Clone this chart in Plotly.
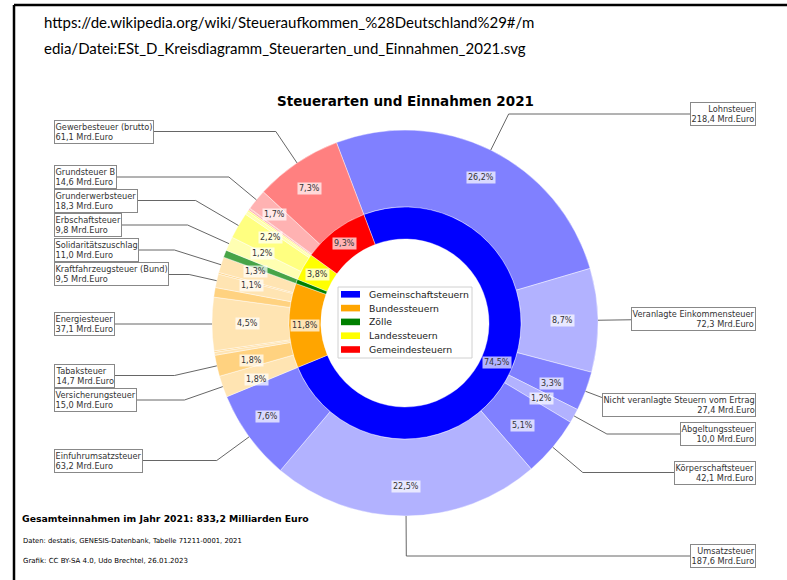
import math

import plotly.graph_objects as go

# inner ring: tax categories
groups = ["Gemeinschaftsteuern", "Bundessteuern", "Zölle", "Landessteuern", "Gemeindesteuern"]

# outer ring: single taxes in clockwise order, Mrd. Euro 2021
taxes = [
    "Lohnsteuer", "Veranlagte Einkommensteuer", "Nicht veranlagte Steuern vom Ertrag",
    "Abgeltungssteuer", "Körperschaftsteuer", "Umsatzsteuer", "Einfuhrumsatzsteuer",
    "Versicherungsteuer", "Tabaksteuer", "Alkoholsteuer", "Kaffeesteuer", "Energiesteuer",
    "Stromsteuer", "Kraftfahrzeugsteuer (Bund)", "Sonstige Bundessteuern", "Solidaritätszuschlag",
    "Zölle",
    "Erbschaftsteuer", "Grunderwerbsteuer", "Rennwett- und Lotteriesteuer", "Sonstige Landessteuern",
    "Sonstige Gemeindesteuern", "Grundsteuer A", "Grundsteuer B", "Gewerbesteuer (brutto)",
]
tax_groups = (
    ["Gemeinschaftsteuern"] * 7 + ["Bundessteuern"] * 9 + ["Zölle"]
    + ["Landessteuern"] * 4 + ["Gemeindesteuern"] * 4
)
amounts = [
    218.4, 72.3, 27.4, 10.0, 42.1, 187.6, 63.2,
    15.0, 14.7, 2.1, 1.0, 37.1, 6.7, 9.5, 1.1, 11.0,
    5.1,
    9.8, 18.3, 2.4, 1.2,
    1.15, 0.4, 14.55, 61.1,
]

total = sum(amounts)
group_totals = [sum(a for a, g in zip(amounts, tax_groups) if g == grp) for grp in groups]

# ---- geometry / style -------------------------------------------------------
W, H = 787, 580
CX, CY = 405, 323
R_OUT, R_MID, R_IN = 193, 116, 84
ROT = -20.8
FONT = "DejaVu Sans"

base_rgb = {
    "Gemeinschaftsteuern": (0, 0, 255),
    "Bundessteuern": (255, 165, 0),
    "Zölle": (0, 128, 0),
    "Landessteuern": (255, 255, 0),
    "Gemeindesteuern": (255, 0, 0),
}
shade = list("dldldld" "ldldldldl" "z" "ldld" "ldld")
alpha = {"d": 0.5, "l": 0.3, "z": 0.72}


def tint(rgb, a):
    return "rgb(%d,%d,%d)" % tuple(round(255 - a * (255 - c)) for c in rgb)


outer_colors = [tint(base_rgb[g], alpha[s]) for g, s in zip(tax_groups, shade)]
inner_colors = ["rgb(%d,%d,%d)" % base_rgb[g] for g in groups]

# label boxes: vertical position (px) of the text box per labelled slice
label_y = {
    "Lohnsteuer": 114, "Veranlagte Einkommensteuer": 318.5,
    "Nicht veranlagte Steuern vom Ertrag": 404.5, "Abgeltungssteuer": 434,
    "Körperschaftsteuer": 472.5, "Umsatzsteuer": 556,
    "Einfuhrumsatzsteuer": 460.5, "Versicherungsteuer": 400, "Tabaksteuer": 375.5,
    "Energiesteuer": 324, "Kraftfahrzeugsteuer (Bund)": 274.5, "Solidaritätszuschlag": 250,
    "Erbschaftsteuer": 225, "Grunderwerbsteuer": 200.5, "Grundsteuer B": 177,
    "Gewerbesteuer (brutto)": 131.5,
}
BOX_LEFT, BOX_RIGHT = 54, 756


def fx(x):
    return x / W


def fy(y):
    return 1 - y / H


def mid_angles(values):
    s = sum(values)
    out, acc = [], 0.0
    for v in values:
        out.append(math.radians(ROT + (acc + v / 2) / s * 360))
        acc += v
    return out


def polar(theta, r):
    return CX + r * math.sin(theta), CY - r * math.cos(theta)


def de(v, nd=1):
    return f"{v:.{nd}f}".replace(".", ",")


def domain(r):
    return dict(x=[fx(CX - r), fx(CX + r)], y=[fy(CY + r), fy(CY - r)])


fig = go.Figure()
fig.add_trace(go.Pie(
    labels=taxes, values=amounts, sort=False, direction="clockwise", rotation=ROT,
    hole=R_MID / R_OUT, domain=domain(R_OUT), textinfo="none", hoverinfo="label+value",
    marker=dict(colors=outer_colors, line=dict(color="rgba(255,255,255,0.7)", width=0.6)),
    showlegend=False,
))
fig.add_trace(go.Pie(
    labels=groups, values=group_totals, sort=False, direction="clockwise", rotation=ROT,
    hole=R_IN / R_MID, domain=domain(R_MID), textinfo="none", hoverinfo="label+value",
    marker=dict(colors=inner_colors, line=dict(color="white", width=0.4)),
    showlegend=False,
))

annotations = []
shapes = []

# percentage labels
for vals, r in ((amounts, 170), (group_totals, 100)):
    for v, th in zip(vals, mid_angles(vals)):
        pct = v / total * 100
        if pct < 1.0:
            continue
        x, y = polar(th, r)
        annotations.append(dict(
            x=fx(x), y=fy(y), xref="paper", yref="paper", text=de(pct) + "%",
            showarrow=False, font=dict(family=FONT, size=8, color="#333"),
            bgcolor="rgba(255,255,255,0.7)", borderpad=1,
        ))

# boxes with leader lines
for name, v, th in zip(taxes, amounts, mid_angles(amounts)):
    if v / total * 100 < 1.0:
        continue
    yb = label_y[name]
    px, py = polar(th, R_OUT)
    c = math.cos(th)
    t = (yb - py) / (-c) if abs(c) > 1e-6 else 0
    if t < 0:
        ex, ey = px, yb
    else:
        t = min(t, 150)
        ex, ey = px + t * math.sin(th), yb
    right = math.sin(th) > 0
    end_x = BOX_RIGHT - 10 if right else BOX_LEFT + 10
    line = dict(color="#555", width=0.9)
    shapes.append(dict(type="line", xref="paper", yref="paper",
                       x0=fx(px), y0=fy(py), x1=fx(ex), y1=fy(ey), line=line))
    shapes.append(dict(type="line", xref="paper", yref="paper",
                       x0=fx(ex), y0=fy(ey), x1=fx(end_x), y1=fy(ey), line=line))
    annotations.append(dict(
        x=fx(BOX_RIGHT if right else BOX_LEFT), y=fy(yb), xref="paper", yref="paper",
        xanchor="right" if right else "left", yanchor="middle",
        text=f"{name}<br>{de(v)} Mrd.Euro", align="right" if right else "left",
        showarrow=False, font=dict(family=FONT, size=8.2, color="#333"),
        bgcolor="white", bordercolor="#888", borderwidth=1, borderpad=0.5,
    ))

# legend in the centre
LEG = dict(x0=338, x1=472, y0=287, y1=358)
shapes.append(dict(type="rect", xref="paper", yref="paper",
                   x0=fx(LEG["x0"]), x1=fx(LEG["x1"]), y0=fy(LEG["y1"]), y1=fy(LEG["y0"]),
                   line=dict(color="#d0d0d0", width=1), fillcolor="rgba(255,255,255,0.8)"))
for i, (grp, col) in enumerate(zip(groups, inner_colors)):
    yc = 294.3 + i * 13.8
    shapes.append(dict(type="rect", xref="paper", yref="paper",
                       x0=fx(341), x1=fx(360), y0=fy(yc + 3.3), y1=fy(yc - 3.3),
                       line=dict(width=0), fillcolor=col))
    annotations.append(dict(x=fx(367), y=fy(yc), xref="paper", yref="paper",
                            xanchor="left", yanchor="middle", text=grp, showarrow=False,
                            font=dict(family=FONT, size=9.3, color="#222")))

# titles and notes
texts = [
    ("Steuerarten und Einnahmen 2021", CX, 101, "center", 13.5, True),
    ("Gesamteinnahmen im Jahr 2021: 833,2 Milliarden Euro", 20, 518, "left", 9.3, True),
    ("Daten: destatis, GENESIS-Datenbank, Tabelle 71211-0001, 2021", 21, 541, "left", 6.8, False),
    ("Grafik: CC BY-SA 4.0, Udo Brechtel, 26.01.2023", 21, 561, "left", 7, False),
]
for txt, x, y, anc, size, bold in texts:
    annotations.append(dict(x=fx(x), y=fy(y), xref="paper", yref="paper", xanchor=anc,
                            yanchor="middle", showarrow=False,
                            text=f"<b>{txt}</b>" if bold else txt,
                            font=dict(family=FONT, size=size, color="black")))

for txt, y in (("https://de.wikipedia.org/wiki/Steueraufkommen_%28Deutschland%29#/m", 22),
               ("edia/Datei:ESt_D_Kreisdiagramm_Steuerarten_und_Einnahmen_2021.svg", 48)):
    annotations.append(dict(x=fx(42), y=fy(y), xref="paper", yref="paper", xanchor="left",
                            yanchor="middle", showarrow=False, text=txt,
                            font=dict(family="Lato", size=15, color="black")))

# slide frame
frame = dict(color="black", width=2.5)
shapes.append(dict(type="line", xref="paper", yref="paper",
                   x0=fx(14), y0=fy(5), x1=fx(787), y1=fy(5), line=frame))
shapes.append(dict(type="line", xref="paper", yref="paper",
                   x0=fx(14), y0=fy(5), x1=fx(14), y1=fy(580), line=frame))

fig.update_layout(
    width=W, height=H, margin=dict(l=0, r=0, t=0, b=0),
    paper_bgcolor="white", plot_bgcolor="white", showlegend=False,
    annotations=annotations, shapes=shapes,
)

fig.write_html(
    "out.html",
    config={"displayModeBar": False},
    post_script=(
        "document.body.style.margin='0';"
        "document.body.style.overflow='hidden';"
        "document.documentElement.style.overflow='hidden';"
    ),
)
